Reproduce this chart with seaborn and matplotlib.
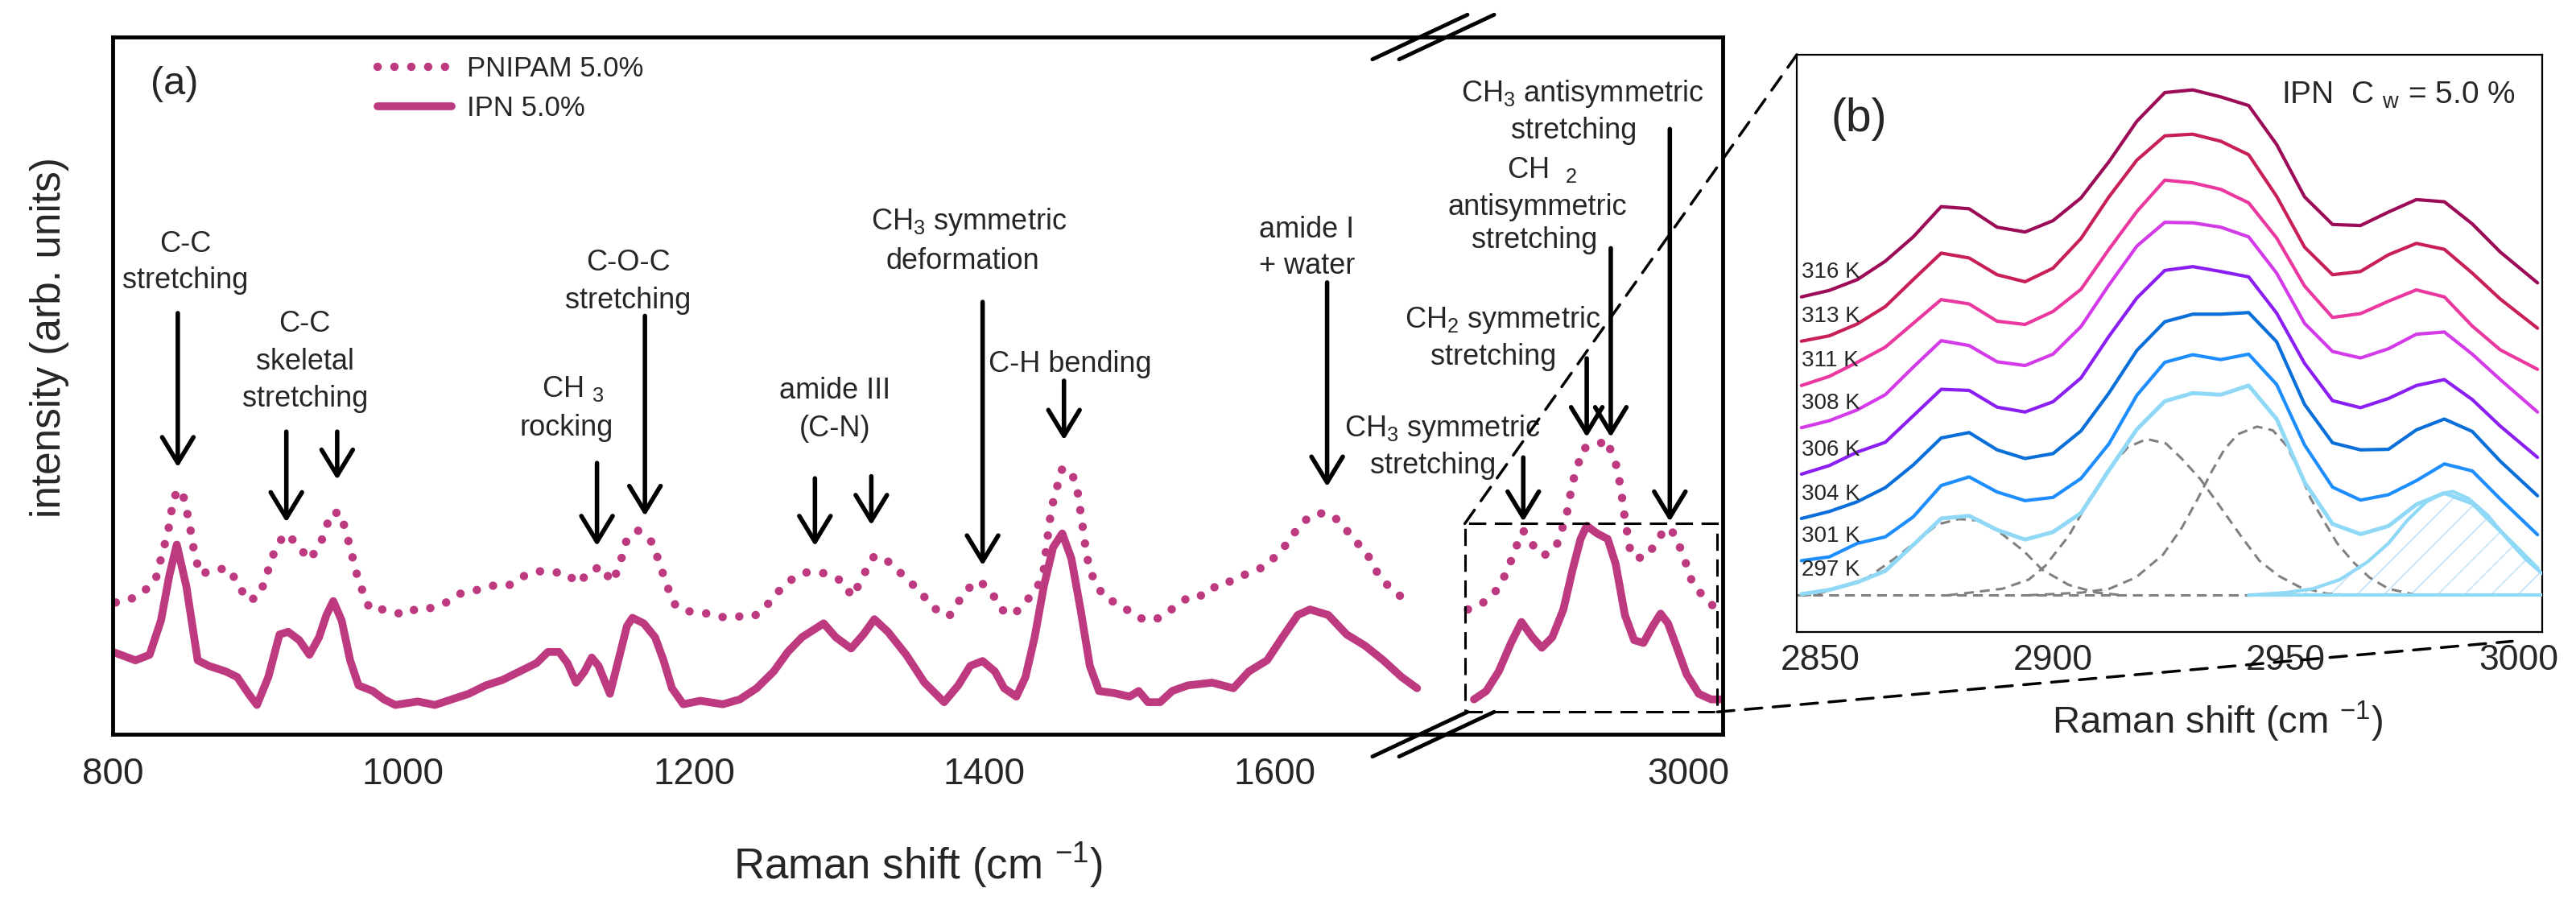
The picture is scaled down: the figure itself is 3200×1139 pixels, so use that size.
import matplotlib
matplotlib.use("Agg")
import matplotlib.pyplot as plt
import seaborn as sns
from matplotlib.patches import Rectangle, ConnectionPatch

sns.set_style("white")
plt.rcParams['font.family'] = ['Liberation Sans', 'DejaVu Sans']
plt.rcParams['mathtext.fontset'] = 'custom'
plt.rcParams['mathtext.rm'] = 'Liberation Sans'
plt.rcParams['mathtext.default'] = 'regular'
plt.rcParams['hatch.linewidth'] = 1.2

# ---- panel (a) : fingerprint region 800-1700 cm-1 ----
ipn_fp_x = [800.2, 815.7, 825.4, 833.2, 839.0, 844.1, 850.7, 858.5, 866.2, 877.9, 885.7, 893.5, 899.3,
            907.1, 914.8, 920.7, 928.4, 935.4, 942.0, 947.1, 951.8, 957.6, 963.4, 969.2, 979.0, 986.7,
            994.5, 1010.0, 1021.7, 1033.4, 1045.0, 1056.7, 1068.4, 1080.0, 1091.7, 1099.5, 1107.2,
            1113.0, 1118.9, 1124.7, 1129.7, 1134.4, 1142.2, 1148.0, 1153.9, 1157.7, 1165.5, 1173.3,
            1179.1, 1184.9, 1192.7, 1204.4, 1219.9, 1231.6, 1243.2, 1254.9, 1264.6, 1274.3, 1289.3,
            1297.7, 1308.2, 1316.6, 1324.2, 1333.5, 1346.1, 1358.7, 1372.2, 1381.9, 1390.2, 1398.7,
            1407.2, 1413.5, 1421.9, 1428.2, 1434.5, 1440.8, 1447.2, 1453.5, 1459.8, 1466.1, 1472.5,
            1478.8, 1489.3, 1499.8, 1506.1, 1512.5, 1520.9, 1529.2, 1539.8, 1556.6, 1571.3, 1581.9,
            1594.5, 1605.0, 1615.6, 1624.0, 1636.6, 1649.3, 1661.9, 1674.5, 1687.1, 1697.7]
ipn_fp_y = [11.8, 10.6, 11.4, 16.3, 22.8, 27.2, 21.2, 10.6, 9.8, 9.0, 8.2, 5.8, 4.2, 8.2, 14.3, 14.7,
            13.5, 11.4, 13.9, 17.1, 19.1, 16.3, 10.6, 7.0, 6.2, 5.0, 4.2, 4.7, 4.2, 5.0, 5.8, 7.0, 7.8,
            9.0, 10.2, 11.8, 11.8, 10.2, 7.4, 9.0, 11.0, 9.8, 5.8, 10.6, 15.5, 16.7, 15.9, 13.9, 10.6,
            6.6, 4.3, 4.8, 4.3, 5.0, 6.6, 9.0, 11.8, 13.9, 15.9, 13.9, 12.3, 14.3, 16.5, 14.7, 11.4,
            7.4, 4.6, 7.0, 9.8, 10.5, 9.0, 6.6, 5.4, 8.2, 13.9, 21.2, 26.8, 28.8, 25.2, 17.9, 9.8, 6.2,
            5.9, 5.4, 6.2, 4.6, 4.6, 6.2, 7.0, 7.4, 6.6, 9.0, 10.6, 13.9, 17.1, 17.9, 17.1, 14.3, 12.7,
            10.6, 8.2, 6.6]

pnipam_fp_x = [802.1, 809.9, 820.4, 829.3, 835.2, 837.9, 842.1, 847.6, 852.6, 856.5, 860.4, 870.1,
               880.6, 885.7, 893.5, 901.2, 909.0, 912.9, 919.9, 927.7, 935.4, 942.0, 945.9, 949.8,
               956.8, 960.3, 963.4, 966.1, 969.2, 977.0, 988.7, 1000.3, 1010.0, 1019.8, 1029.5,
               1040.4, 1050.9, 1060.6, 1072.2, 1081.9, 1092.4, 1101.4, 1111.1, 1120.8, 1128.6,
               1137.5, 1143.0, 1148.0, 1153.9, 1161.6, 1171.4, 1175.2, 1179.1, 1183.0, 1187.7,
               1198.6, 1210.2, 1221.9, 1231.6, 1241.3, 1249.1, 1256.8, 1266.6, 1276.3, 1287.9,
               1301.9, 1309.1, 1318.7, 1324.2, 1333.5, 1341.9, 1354.5, 1365.1, 1375.6, 1387.4,
               1396.6, 1405.1, 1411.4, 1419.8, 1428.2, 1436.6, 1440.8, 1443.0, 1445.1, 1447.2,
               1450.5, 1453.5, 1459.8, 1464.0, 1467.4, 1470.3, 1473.3, 1476.6, 1483.0, 1493.5,
               1504.0, 1512.4, 1520.8, 1531.4, 1541.9, 1552.4, 1560.8, 1571.4, 1581.9, 1592.4,
               1600.8, 1609.3, 1615.6, 1624.0, 1634.5, 1645.1, 1653.5, 1661.9, 1672.4, 1680.9, 1690.5]
pnipam_fp_y = [18.9, 19.1, 20.3, 22.0, 26.8, 28.8, 34.1, 35.1, 30.5, 25.6, 22.9, 23.7, 23.7, 21.6,
               19.1, 19.9, 24.8, 27.2, 28.8, 27.0, 25.0, 27.0, 28.8, 31.7, 31.8, 29.2, 26.8, 24.5,
               22.0, 17.9, 17.9, 17.1, 18.1, 18.1, 18.9, 20.3, 20.7, 21.3, 21.3, 22.6, 23.4, 23.2,
               23.2, 21.6, 23.6, 24.0, 21.8, 23.6, 28.0, 29.2, 27.5, 25.2, 22.8, 20.5, 18.3, 17.5,
               17.3, 16.7, 16.9, 16.9, 18.2, 20.2, 22.1, 23.2, 23.2,
               22.0, 19.7, 23.6, 25.6, 24.8, 23.2, 20.7, 18.1, 16.9, 20.7, 22.0, 20.3, 17.9, 17.1,
               18.9, 21.2, 23.6, 27.6, 30.9, 33.3, 35.9, 38.1, 37.7, 34.9, 30.0, 25.6, 23.2, 21.6,
               19.5, 18.6, 16.9, 16.3, 16.7, 18.3, 19.9, 19.9, 21.6, 22.0, 23.2, 24.0, 25.6, 27.6,
               29.6, 31.3, 31.8, 30.5, 28.0, 26.4, 22.4, 20.7, 19.1]

# ---- panel (a) : C-H stretching region ----
ipn_ch_x = [2843.9, 2852.9, 2861.9, 2870.9, 2878.5, 2886.5, 2893.3, 2900.9, 2909.0, 2915.7, 2921.5,
            2926.0, 2933.6, 2941.3, 2947.1, 2953.8, 2960.5, 2967.3, 2974.0, 2979.8, 2985.2, 2991.9,
            2998.7, 3007.6, 3016.6, 3025.0]
ipn_ch_y = [5.0, 6.2, 9.0, 13.1, 16.1, 13.9, 12.4, 13.9, 17.9, 23.6, 28.0, 29.9, 28.8, 28.0, 24.4,
            17.1, 13.5, 13.1, 15.5, 17.3, 15.9, 12.3, 8.6, 5.8, 5.0, 5.0]
pnipam_ch_x = [2839.5, 2850.7, 2859.6, 2867.7, 2875.3, 2879.8, 2886.5, 2894.6, 2903.6, 2911.2,
               2915.7, 2923.3, 2933.6, 2940.4, 2948.4, 2951.6, 2953.8, 2958.3, 2967.3, 2976.2,
               2983.0, 2989.7, 2996.4, 3003.1, 3012.1, 3019.7]
pnipam_ch_y = [17.9, 18.9, 20.5, 23.2, 27.2, 29.2, 27.2, 25.6, 26.8, 31.3, 36.1, 41.0, 41.4, 42.3,
               38.1, 34.1, 30.9, 25.6, 25.2, 27.2, 29.6, 28.8, 25.6, 21.6, 19.5, 18.1]

# ---- panel (b) : IPN 5.0 % vs temperature ----
shift_b = [2846, 2852, 2858, 2864, 2870, 2876, 2882, 2888, 2894, 2900, 2906, 2912, 2918, 2924,
           2930, 2936, 2942, 2948, 2954, 2960, 2966, 2972, 2978, 2984, 2990, 2996, 3004]
temps = ['316', '313', '311', '308', '306', '304', '301', '297']
i_316 = [55.2, 56.4, 58.4, 61.8, 66.3, 71.9, 71.5, 68.1, 67.2, 69.3, 73.5, 80.2, 87.7, 93.0, 93.5,
         92.2, 90.6, 83.4, 73.7, 68.6, 68.4, 70.9, 73.2, 72.8, 68.7, 63.5, 57.8]
i_313 = [47.0, 48.0, 50.2, 53.4, 58.4, 63.3, 62.4, 59.3, 58.0, 60.5, 66.0, 73.7, 80.5, 85.0, 85.3,
         84.0, 81.5, 73.8, 64.4, 59.3, 59.9, 63.0, 65.1, 64.0, 59.6, 54.8, 49.4]
i_311 = [38.8, 40.5, 43.1, 45.9, 50.3, 54.7, 53.9, 50.7, 50.1, 52.5, 56.6, 64.0, 71.0, 76.8, 76.3,
         75.1, 72.6, 66.1, 57.2, 51.4, 52.1, 54.4, 56.5, 55.2, 49.8, 45.4, 41.8]
i_308 = [31.0, 32.3, 34.3, 37.1, 42.2, 47.1, 46.2, 43.2, 42.5, 44.6, 49.7, 57.4, 64.6, 69.0, 68.9,
         68.1, 66.3, 59.6, 50.3, 45.1, 43.9, 45.6, 48.3, 48.7, 44.6, 39.9, 33.9]
i_306 = [22.4, 24.0, 26.5, 28.3, 33.2, 38.1, 37.9, 34.8, 33.9, 35.8, 40.2, 47.9, 55.0, 60.1, 60.8,
         59.9, 58.9, 52.2, 42.9, 36.0, 34.7, 36.4, 38.8, 39.9, 36.2, 31.3, 25.5]
i_304 = [14.2, 15.5, 17.3, 19.9, 24.1, 29.1, 30.1, 26.9, 25.3, 26.2, 30.4, 37.4, 45.3, 50.6, 52.0,
         52.0, 52.3, 46.9, 35.3, 28.2, 26.9, 27.0, 30.6, 32.6, 30.3, 24.8, 18.4]
i_301 = [6.4, 7.1, 9.6, 10.8, 14.5, 20.3, 21.9, 19.1, 17.5, 18.1, 21.6, 28.0, 37.0, 43.1, 44.5,
         43.6, 44.6, 39.0, 27.8, 20.0, 17.6, 18.6, 21.2, 24.3, 23.0, 17.8, 11.2]
i_297 = [0.2, 1.0, 2.4, 4.5, 9.3, 14.2, 14.7, 12.1, 10.3, 11.7, 15.2, 23.1, 30.7, 35.9, 37.4,
         37.1, 38.8, 32.6, 20.9, 13.2, 11.3, 12.8, 16.8, 18.9, 17.0, 11.9, 5.0]

# fitted components of the 297 K spectrum
fit1_x = [2846.0, 2848.8, 2854.5, 2860.3, 2866.0, 2870.6, 2875.2, 2879.8, 2884.5, 2889.1, 2893.7,
          2897.7, 2903.4, 2909.2, 2915.0]
fit1_y = [0.0, 0.1, 1.5, 3.3, 6.8, 9.9, 13.1, 14.1, 13.8, 11.3, 8.2, 4.7, 1.9, 0.5, 0.0]
fit2_x = [2877.5, 2889.1, 2894.8, 2898.3, 2903.4, 2907.5, 2912.1, 2916.1, 2920.1, 2924.2, 2927.6,
          2931.7, 2935.7, 2940.3, 2944.3, 2948.4, 2953.0, 2958.7, 2964.5]
fit2_y = [0.0, 1.2, 2.9, 5.4, 11.0, 17.2, 23.5, 27.4, 28.9, 28.1, 25.3, 21.4, 16.6, 11.0, 6.4, 3.6,
          1.5, 0.3, 0.0]
fit3_x = [2894.8, 2906.3, 2912.1, 2917.8, 2923.6, 2927.6, 2931.1, 2934.0, 2936.8, 2939.7, 2943.8,
          2947.2, 2950.1, 2953.0, 2955.3, 2958.1, 2961.0, 2964.5, 2967.9, 2972.0, 2977.7]
fit3_y = [0.0, 0.5, 1.2, 3.3, 7.5, 12.4, 17.9, 22.8, 27.0, 29.8, 31.2, 30.5, 27.7, 22.8, 17.9,
          13.8, 9.6, 6.1, 3.3, 1.2, 0.1]
fit4_x = [2942.0, 2950.1, 2955.8, 2961.6, 2967.4, 2972.0, 2976.0, 2980.0, 2983.5, 2985.8, 2989.2,
          2993.3, 2997.3, 3001.3, 3005.0]
fit4_y = [0.0, 0.5, 1.2, 2.9, 6.1, 9.6, 13.8, 17.2, 18.8, 19.2, 17.9, 14.8, 10.6, 6.8, 4.0]

PINK = '#BE3A80'
t_colors = ['#9C0B57', '#C81F55', '#EA38A0', '#D43BE8', '#8B1FF2', '#0B6FD9', '#1E8EFF', '#8FD8F6']
FIT_BLUE = '#8FD8F6'

W, H = 3200, 1139
def px_box(l, t, r, b):
    return [l / W, 1 - b / H, (r - l) / W, (b - t) / H]

fig = plt.figure(figsize=(32, 11.39), dpi=100)
ax_l = fig.add_axes(px_box(140, 46, 1780, 912))
ax_r = fig.add_axes(px_box(1780, 46, 2140, 912))
ax_b = fig.add_axes(px_box(2232, 68, 3158, 785))

dot_ls = (0, (0.01, 2.0))
sns.lineplot(x=pnipam_fp_x, y=pnipam_fp_y, ax=ax_l, color=PINK, lw=7.5, linestyle=dot_ls,
             dash_capstyle='round', sort=False, estimator=None, label='PNIPAM 5.0%')
sns.lineplot(x=ipn_fp_x, y=ipn_fp_y, ax=ax_l, color=PINK, lw=7, sort=False, estimator=None,
             label='IPN 5.0%')
sns.lineplot(x=pnipam_ch_x, y=pnipam_ch_y, ax=ax_r, color=PINK, lw=7.5, linestyle=dot_ls,
             dash_capstyle='round', sort=False, estimator=None)
sns.lineplot(x=ipn_ch_x, y=ipn_ch_y, ax=ax_r, color=PINK, lw=7, sort=False, estimator=None)
if ax_r.get_legend():
    ax_r.get_legend().remove()

for ax in (ax_l, ax_r):
    ax.set_ylim(0, 100)
    ax.set_yticks([])
    ax.set_ylabel('')
    ax.patch.set_alpha(0)
    for sp in ax.spines.values():
        sp.set_linewidth(3.5)
        sp.set_color('black')
    ax.tick_params(axis='x', which='major', direction='in', length=22, width=3.5,
                   labelsize=33, pad=20, color='black')
    ax.tick_params(axis='x', which='minor', direction='in', length=11, width=3.5, color='black')
ax_l.spines['right'].set_visible(False)
ax_r.spines['left'].set_visible(False)
ax_l.set_xlim(800, 1708.6)
ax_l.set_xticks([800, 1000, 1200, 1400, 1600])
ax_l.set_xticks([900, 1100, 1300, 1500], minor=True)
ax_r.set_xlim(2814, 3025)
ax_r.set_xticks([3000])
ax_r.set_xticks([2900], minor=True)

# axis break marks
for xc in (0.9902, 1.0104):
    for yc in (0, 1):
        ax_l.plot([xc - 0.036, xc + 0.036], [yc - 0.032, yc + 0.032], transform=ax_l.transAxes,
                  color='black', lw=3.5, clip_on=False, zorder=10)

ax_l.set_xlabel('Raman shift (cm $^{-1}$)', fontsize=38, va='center')
ax_l.xaxis.set_label_coords(0.6098, -0.188)
ax_l.set_ylabel('intensity (arb. units)', fontsize=37, va='center')
ax_l.yaxis.set_label_coords(-0.0476, 0.569)
ax_r.set_xlabel('')

ax_l.text(0.047, 0.933, '(a)', transform=ax_l.transAxes, fontsize=35, ha='center', va='center')
ax_l.legend(loc='upper left', bbox_to_anchor=(0.2006, 0.973), frameon=False, fontsize=25,
            handlelength=2.65, handletextpad=0.55, labelspacing=0.45, borderpad=0, borderaxespad=0)

# peak assignments
notes_l = [('C-C', 849.9, 70.3), ('stretching', 849.9, 65.1),
           ('C-C', 932.3, 58.8), ('skeletal', 932.3, 53.4), ('stretching', 932.3, 48.1),
           ('CH $_3$', 1116.9, 49.5), ('rocking', 1112.3, 43.9),
           ('C-O-C', 1154.6, 67.6), ('stretching', 1154.6, 62.2),
           ('amide III', 1296.9, 49.2), ('(C-N)', 1296.9, 43.8),
           ('CH$_3$ symmetric', 1389.0, 73.5), ('deformation', 1384.8, 67.8),
           ('C-H bending', 1459.0, 53.1),
           ('amide I', 1621.9, 72.3), ('+ water', 1621.9, 67.2)]
notes_r = [('CH$_3$ symmetric', 2820.6, 43.8), ('stretching', 2814.0, 38.5),
           ('CH$_2$ symmetric', 2865.0, 59.4), ('stretching', 2858.3, 54.1),
           ('CH  $_2$', 2893.3, 81.0), ('antisymmetric', 2890.0, 75.6), ('stretching', 2888.0, 70.9),
           ('CH$_3$ antisymmetric', 2923.0, 91.9), ('stretching', 2916.6, 86.5)]
arrows_l = [(844.8, 60.4, 38.3), (919.5, 43.4, 30.4), (954.5, 43.4, 36.5), (1133.3, 38.9, 27.0),
            (1166.3, 60.0, 31.3), (1283.3, 36.7, 27.0), (1322.1, 37.0, 30.0), (1398.7, 62.0, 24.2),
            (1454.7, 50.7, 42.2), (1635.8, 64.8, 35.5)]
arrows_r = [(2879.8, 39.7, 30.5), (2926.0, 53.9, 42.6), (2943.5, 69.7, 42.6), (2986.5, 86.8, 30.5)]

arrow_kw = dict(arrowstyle='->,head_length=1.15,head_width=0.7', lw=4, color='black',
                shrinkA=0, shrinkB=0, mutation_scale=20)
for ax, notes, arrows in ((ax_l, notes_l, arrows_l), (ax_r, notes_r, arrows_r)):
    for txt, x, y in notes:
        ax.text(x, y, txt, fontsize=26, ha='center', va='center', clip_on=False)
    for x, tail, tip in arrows:
        ax.annotate('', xy=(x, tip), xytext=(x, tail), arrowprops=arrow_kw)

# zoom box and connectors
box_x0, box_x1, box_y0, box_y1 = 2837.2, 3021.1, 3.2, 30.2
ax_r.add_patch(Rectangle((box_x0, box_y0), box_x1 - box_x0, box_y1 - box_y0, fill=False,
                         ec='black', lw=2.2, ls=(0, (7, 3.5)), zorder=6))
for xyA, xyB in (((box_x0, box_y1), (0, 1)), ((box_x1, box_y0), (0.96, -0.016))):
    con = ConnectionPatch(xyA=xyA, coordsA=ax_r.transData, xyB=xyB, coordsB=ax_b.transAxes,
                          color='black', lw=2.5, ls=(0, (6, 4)))
    fig.add_artist(con)

# ---- panel (b) ----
ax_b.axhline(0, color='#808080', lw=2.2, ls=(0, (4, 2.5)), zorder=1)
for fx, fy in ((fit1_x, fit1_y), (fit2_x, fit2_y), (fit3_x, fit3_y)):
    sns.lineplot(x=fx, y=fy, ax=ax_b, color='#808080', lw=2.2, linestyle=(0, (4, 2.5)),
                 sort=False, estimator=None, zorder=2)
ax_b.fill_between(fit4_x, 0, fit4_y, facecolor='none', edgecolor='#C6E2F7', hatch='/',
                  linewidth=0, zorder=1)
sns.lineplot(x=fit4_x, y=fit4_y, ax=ax_b, color=FIT_BLUE, lw=3, sort=False, estimator=None, zorder=3)
ax_b.plot([fit4_x[0], fit4_x[-1]], [0, 0], color=FIT_BLUE, lw=3, zorder=3)

series_b = [i_316, i_313, i_311, i_308, i_306, i_304, i_301, i_297]
for t, vals, c in zip(temps, series_b, t_colors):
    sns.lineplot(x=shift_b, y=vals, ax=ax_b, color=c, lw=3.6 if t == '297' else 3,
                 sort=False, estimator=None, zorder=4)
    ax_b.text(shift_b[0], vals[0] + 2.6, f'{t} K', fontsize=20, ha='left', va='bottom', zorder=5)

ax_b.set_xlim(2845, 3005)
ax_b.set_ylim(-6.8, 100)
ax_b.set_yticks([])
ax_b.set_ylabel('')
ax_b.set_xticks([2850, 2900, 2950, 3000])
ax_b.set_xticks([2875, 2925, 2975], minor=True)
for sp in ax_b.spines.values():
    sp.set_linewidth(1.6)
    sp.set_color('black')
ax_b.tick_params(axis='x', which='major', direction='in', length=10, width=1.6, labelsize=32,
                 pad=11, color='black')
ax_b.tick_params(axis='x', which='minor', direction='in', length=5, width=1.6, color='black')
ax_b.set_xlabel('Raman shift (cm $^{-1}$)', fontsize=34, va='center')
ax_b.xaxis.set_label_coords(0.564, -0.155)
ax_b.text(0.083, 0.888, '(b)', transform=ax_b.transAxes, fontsize=41, ha='center', va='center')
ax_b.text(0.650, 0.930, 'IPN  C $_{w}$ = 5.0 %', transform=ax_b.transAxes, fontsize=28,
          ha='left', va='center')

fig.savefig('out.png', dpi=100)
